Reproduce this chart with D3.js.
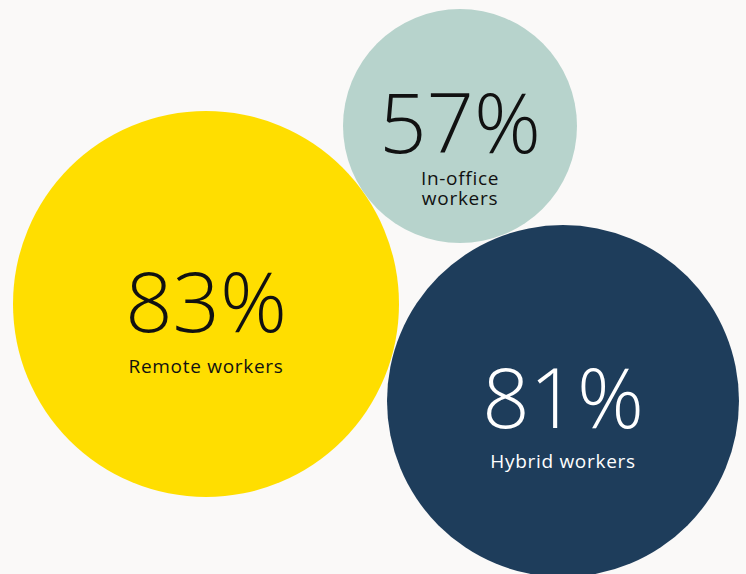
<!DOCTYPE html>
<html>
<head>
<meta charset="utf-8">
<script src="https://cdn.jsdelivr.net/npm/d3@7"></script>
<style>
  html, body { margin: 0; padding: 0; background: #faf9f8; }
  svg { display: block; }
  .big { font-family: "Open Sans", sans-serif; font-weight: 300; }
  .lbl { font-family: "Open Sans", sans-serif; font-weight: 400; letter-spacing: 0.7px; }
</style>
</head>
<body>
<div id="chart"></div>
<script>
// --- DATA ---
const groups = ["Remote workers", "In-office workers", "Hybrid workers"];
const shares = [83, 57, 81];
const labelLines = [["Remote workers"], ["In-office", "workers"], ["Hybrid workers"]];

// --- LAYOUT (bubble placement, not data) ---
const width = 746, height = 574;
const bubbles = [
  { cx: 206, cy: 304, r: 193, fill: "#ffde00", text: "#111111" },
  { cx: 460, cy: 126, r: 117, fill: "#b7d3cc", text: "#111111" },
  { cx: 563, cy: 401, r: 176, fill: "#1e3d5b", text: "#ffffff" }
];
// offsets of the big number and label baseline from the bubble centre
const textPos = [
  { num: 28, lab: 69 },
  { num: 27, lab: 59 },
  { num: 27, lab: 67 }
];

const fmt = d3.format("d");

const svg = d3.select("#chart").append("svg")
  .attr("width", width)
  .attr("height", height);

svg.append("rect").attr("width", width).attr("height", height).attr("fill", "#faf9f8");

const nodes = groups.map((g, i) => ({ group: g, value: shares[i], lines: labelLines[i], ...bubbles[i], tp: textPos[i] }));

const g = svg.selectAll("g.bubble")
  .data(nodes)
  .join("g")
  .attr("class", "bubble")
  .attr("transform", d => `translate(${d.cx},${d.cy})`);

g.append("circle")
  .attr("r", d => d.r)
  .attr("fill", d => d.fill);

g.append("text")
  .attr("class", "big")
  .attr("text-anchor", "middle")
  .attr("y", d => d.tp.num)
  .attr("font-size", 83)
  .attr("fill", d => d.text)
  .text(d => fmt(d.value) + "%");

g.each(function(d) {
  const t = d3.select(this).append("text")
    .attr("class", "lbl")
    .attr("text-anchor", "middle")
    .attr("font-size", 19)
    .attr("fill", d.text);
  d.lines.forEach((line, j) => {
    t.append("tspan")
      .attr("x", 0)
      .attr("y", d.tp.lab + j * 20)
      .text(line);
  });
});
</script>
</body>
</html>
